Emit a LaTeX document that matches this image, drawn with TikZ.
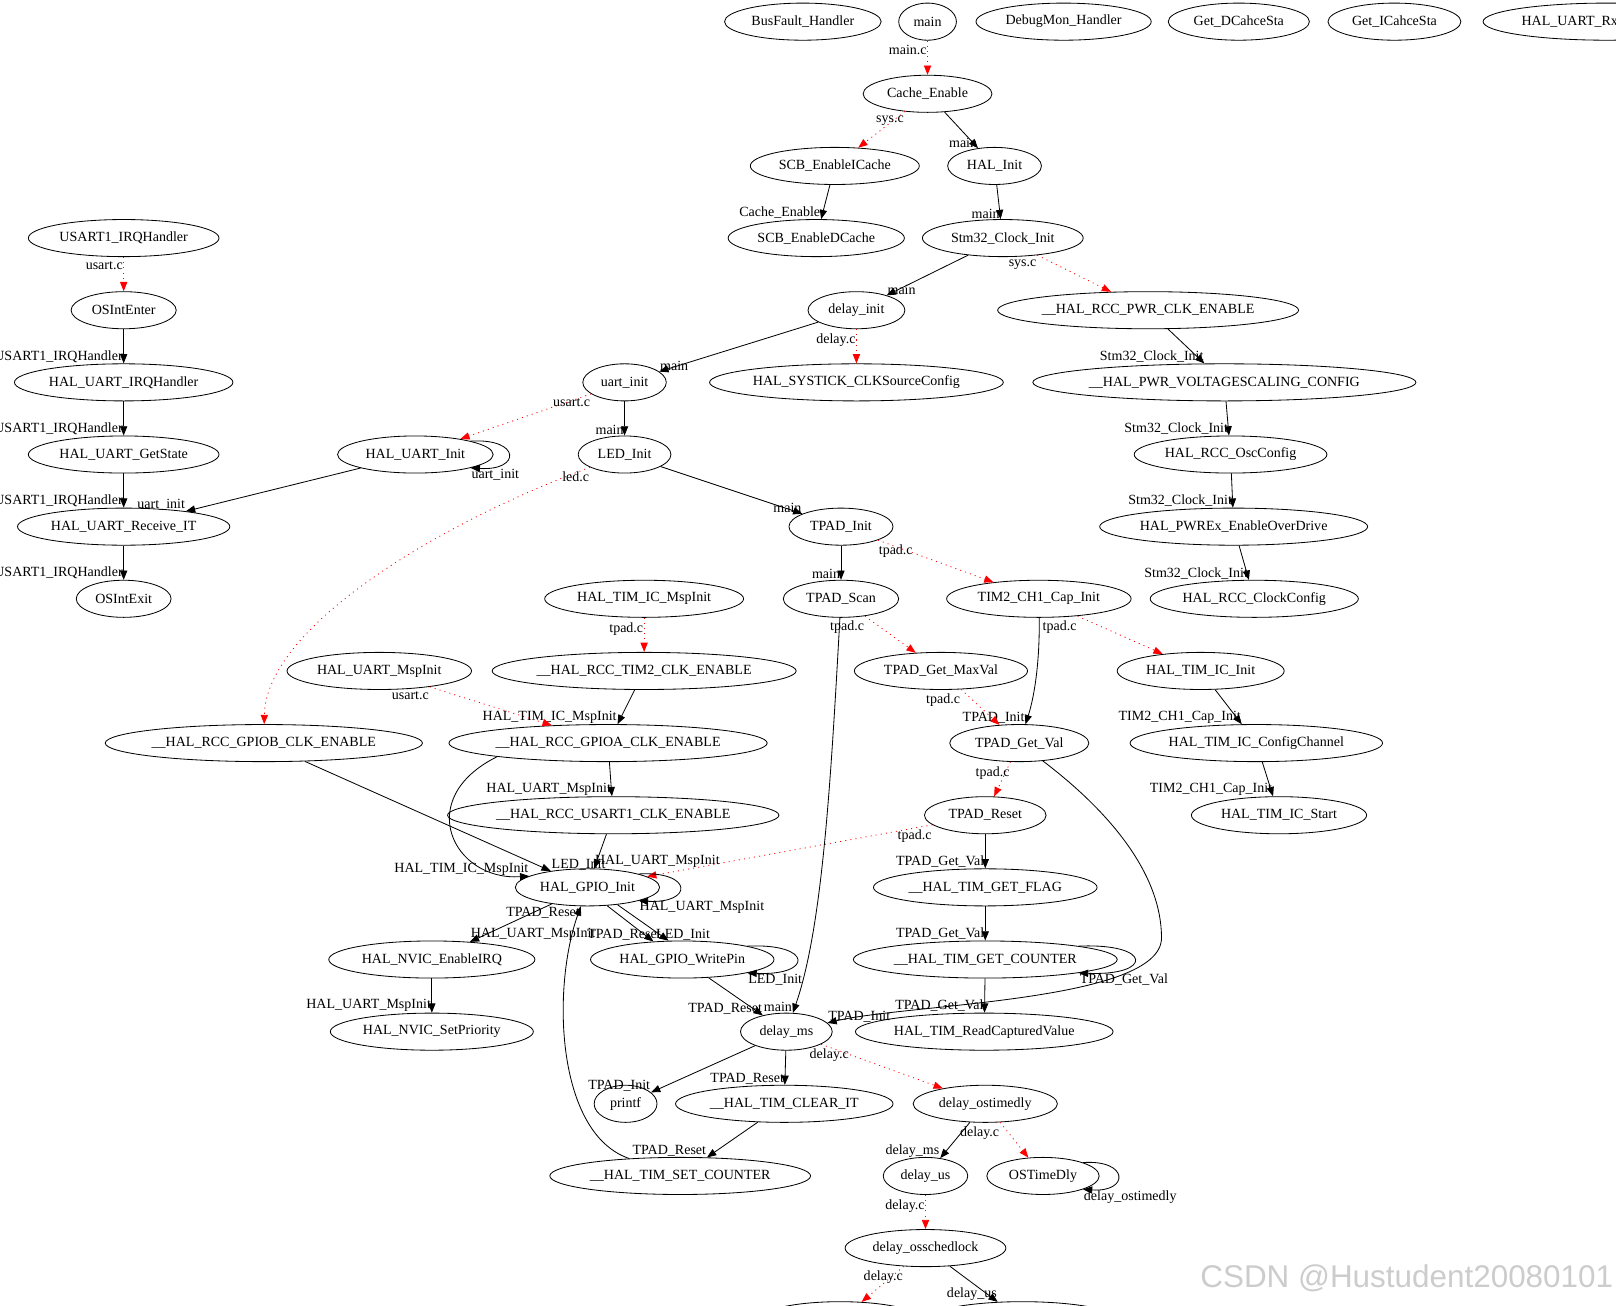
\documentclass[tikz,border=0pt]{standalone}
\usepackage{fontspec}
\setmainfont{Liberation Serif}
\newfontfamily\wmfont{Liberation Sans}
\usetikzlibrary{
    arrows.meta,
    shapes.geometric
}

\begin{document}
\begin{tikzpicture}[
    x=1pt, y=-1pt,
    font=\fontsize{13.6}{15}\selectfont,
    func/.style={
        ellipse,
        draw=black,
        line width=0.8pt,
        minimum height=36pt,
        inner sep=0pt
    },
    callarrow/.style={
        -{Triangle[length=9pt,width=7pt]},
        line width=0.8pt,
        draw=black
    },
    filearrow/.style={
        -{Triangle[length=9pt,width=7pt]},
        line width=0.8pt,
        draw=red,
        dash pattern=on 1pt off 4pt
    },
    headlbl/.style={
        at end,
        anchor=south east,
        inner sep=0.5pt
    },
    taillbl/.style={
        at start,
        anchor=north east,
        inner sep=0.5pt,
        yshift=-3.5pt
    }
]
\useasboundingbox (0,0) rectangle (1568,1267);

% =========================================================
% Top row
% =========================================================
\node[func, minimum width=152pt] (busfault) at (779,21) {BusFault\_Handler};
\node[func, minimum width=56pt] (mainfn) at (900,21) {main};
\node[func, minimum width=170pt] (debugmon) at (1032,21) {DebugMon\_Handler};
\node[func, minimum width=137pt] (getdcache) at (1202,21) {Get\_DCahceSta};
\node[func, minimum width=129pt] (geticache) at (1353,21) {Get\_ICahceSta};
\node[func, minimum width=240pt] (uartrx) at (1559,21) {HAL\_UART\_RxCpltCallback};

% =========================================================
% Cache and clock setup
% =========================================================
\node[func, minimum width=125pt] (cacheen) at (900,91) {Cache\_Enable};
\node[func, minimum width=164pt] (scbicache) at (810,161) {SCB\_EnableICache};
\node[func, minimum width=91pt] (halinit) at (965,161) {HAL\_Init};
\node[func, minimum width=171pt] (scbdcache) at (792,231) {SCB\_EnableDCache};
\node[func, minimum width=156pt] (clkinit) at (973,231) {Stm32\_Clock\_Init};
\node[func, minimum width=94pt] (delayinit) at (831,301) {delay\_init};
\node[func, minimum width=292pt] (pwrclk) at (1114,301) {\_\_HAL\_RCC\_PWR\_CLK\_ENABLE};
\node[func, minimum width=285pt] (systick) at (831,371) {HAL\_SYSTICK\_CLKSourceConfig};
\node[func, minimum width=368pt] (voltscale) at (1188,371) {\_\_HAL\_PWR\_VOLTAGESCALING\_CONFIG};
\node[func, minimum width=187pt] (oscconfig) at (1194,441) {HAL\_RCC\_OscConfig};
\node[func, minimum width=260pt] (overdrive) at (1197,511) {HAL\_PWREx\_EnableOverDrive};
\node[func, minimum width=202pt] (clockcfg) at (1217,581) {HAL\_RCC\_ClockConfig};

% =========================================================
% USART interrupt chain
% =========================================================
\node[func, minimum width=185pt] (usartirq) at (120,231) {USART1\_IRQHandler};
\node[func, minimum width=102pt] (osenter) at (120,301) {OSIntEnter};
\node[func, minimum width=212pt] (uartirq) at (120,371) {HAL\_UART\_IRQHandler};
\node[func, minimum width=185pt] (getstate) at (120,441) {HAL\_UART\_GetState};
\node[func, minimum width=206pt] (recvit) at (120,511) {HAL\_UART\_Receive\_IT};
\node[func, minimum width=92pt] (osexit) at (120,581) {OSIntExit};

% =========================================================
% Init, LED and TPAD
% =========================================================
\node[func, minimum width=81pt] (uartinit) at (606,371) {uart\_init};
\node[func, minimum width=151pt] (haluartinit) at (403,441) {HAL\_UART\_Init};
\node[func, minimum width=90pt] (ledinit) at (606,441) {LED\_Init};
\node[func, minimum width=101pt] (tpadinit) at (816,511) {TPAD\_Init};
\node[func, minimum width=112pt] (tpadscan) at (816,581) {TPAD\_Scan};
\node[func, minimum width=179pt] (capinit) at (1008,581) {TIM2\_CH1\_Cap\_Init};
\node[func, minimum width=168pt] (maxval) at (913,651) {TPAD\_Get\_MaxVal};
\node[func, minimum width=162pt] (icinit) at (1165,651) {HAL\_TIM\_IC\_Init};
\node[func, minimum width=135pt] (getval) at (989,721) {TPAD\_Get\_Val};
\node[func, minimum width=245pt] (cfgchan) at (1219,721) {HAL\_TIM\_IC\_ConfigChannel};
\node[func, minimum width=118pt] (tpadreset) at (956,791) {TPAD\_Reset};
\node[func, minimum width=170pt] (icstart) at (1241,791) {HAL\_TIM\_IC\_Start};
\node[func, minimum width=217pt] (getflag) at (956,861) {\_\_HAL\_TIM\_GET\_FLAG};
\node[func, minimum width=256pt] (getcounter) at (956,931) {\_\_HAL\_TIM\_GET\_COUNTER};
\node[func, minimum width=250pt] (readcap) at (955,1001) {HAL\_TIM\_ReadCapturedValue};

% =========================================================
% MSP and GPIO
% =========================================================
\node[func, minimum width=193pt] (ticmsp) at (625,581) {HAL\_TIM\_IC\_MspInit};
\node[func, minimum width=179pt] (uartmsp) at (368,651) {HAL\_UART\_MspInit};
\node[func, minimum width=295pt] (tim2clk) at (625,651) {\_\_HAL\_RCC\_TIM2\_CLK\_ENABLE};
\node[func, minimum width=306pt] (gpiobclk) at (256,721) {\_\_HAL\_RCC\_GPIOB\_CLK\_ENABLE};
\node[func, minimum width=308pt] (gpioaclk) at (590,721) {\_\_HAL\_RCC\_GPIOA\_CLK\_ENABLE};
\node[func, minimum width=320pt] (usart1clk) at (595,791) {\_\_HAL\_RCC\_USART1\_CLK\_ENABLE};
\node[func, minimum width=140pt] (gpioinit) at (570,861) {HAL\_GPIO\_Init};
\node[func, minimum width=200pt] (nvicirq) at (419,931) {HAL\_NVIC\_EnableIRQ};
\node[func, minimum width=178pt] (writepin) at (662,931) {HAL\_GPIO\_WritePin};
\node[func, minimum width=197pt] (nvicprio) at (419,1001) {HAL\_NVIC\_SetPriority};

% =========================================================
% Delays
% =========================================================
\node[func, minimum width=89pt] (delayms) at (763,1001) {delay\_ms};
\node[func, minimum width=61pt] (printfn) at (607,1071) {printf};
\node[func, minimum width=211pt] (clearit) at (761,1071) {\_\_HAL\_TIM\_CLEAR\_IT};
\node[func, minimum width=140pt] (ostimedly) at (956,1071) {delay\_ostimedly};
\node[func, minimum width=253pt] (setcounter) at (660,1141) {\_\_HAL\_TIM\_SET\_COUNTER};
\node[func, minimum width=82pt] (delayus) at (898,1141) {delay\_us};
\node[func, minimum width=109pt] (ostdly) at (1012,1141) {OSTimeDly};
\node[func, minimum width=156pt] (schedlock) at (898,1211) {delay\_osschedlock};
\node[func, minimum width=160pt] (lockleft) at (815,1281) {};
\node[func, minimum width=188pt] (lockright) at (992,1281) {};

\coordinate (gvbend) at (1127,910);

% =========================================================
% Cache and clock calls
% =========================================================
\draw[filearrow] (mainfn) -- (cacheen) node[taillbl] {main.c};
\draw[filearrow] (cacheen) -- (scbicache) node[taillbl] {sys.c};
\draw[callarrow] (cacheen) -- (halinit) node[headlbl] {main};
\draw[callarrow] (scbicache) -- (scbdcache) node[headlbl] {Cache\_Enable};
\draw[callarrow] (halinit) -- (clkinit) node[headlbl] {main};
\draw[callarrow] (clkinit) -- (delayinit) node[headlbl, anchor=south west] {main};
\draw[filearrow] (clkinit) -- (pwrclk) node[taillbl] {sys.c};
\draw[callarrow] (pwrclk) -- (voltscale) node[headlbl] {Stm32\_Clock\_Init};
\draw[callarrow] (voltscale) -- (oscconfig) node[headlbl] {Stm32\_Clock\_Init};
\draw[callarrow] (oscconfig) -- (overdrive) node[headlbl] {Stm32\_Clock\_Init};
\draw[callarrow] (overdrive) -- (clockcfg) node[headlbl] {Stm32\_Clock\_Init};
\draw[callarrow] (delayinit) -- (uartinit) node[headlbl, anchor=south west] {main};
\draw[filearrow] (delayinit) -- (systick) node[taillbl] {delay.c};

% =========================================================
% USART calls
% =========================================================
\draw[filearrow] (usartirq) -- (osenter) node[taillbl] {usart.c};
\draw[callarrow] (osenter) -- (uartirq) node[headlbl] {USART1\_IRQHandler};
\draw[callarrow] (uartirq) -- (getstate) node[headlbl] {USART1\_IRQHandler};
\draw[callarrow] (getstate) -- (recvit) node[headlbl] {USART1\_IRQHandler};
\draw[callarrow] (recvit) -- (osexit) node[headlbl] {USART1\_IRQHandler};
\draw[callarrow] (haluartinit) -- (recvit) node[headlbl] {uart\_init};
\draw[callarrow] (haluartinit.north east) .. controls +(49,-3) and +(49,3) .. (haluartinit.south east) node[headlbl, anchor=north west] {uart\_init};
\draw[filearrow] (uartinit) -- (haluartinit) node[taillbl] {usart.c};
\draw[callarrow] (uartinit) -- (ledinit) node[headlbl] {main};
\draw[callarrow] (ledinit) -- (tpadinit) node[headlbl] {main};
\draw[filearrow] (ledinit) .. controls (420,510) and (258,610) .. (gpiobclk) node[taillbl] {led.c};

% =========================================================
% TPAD calls
% =========================================================
\draw[callarrow] (tpadinit) -- (tpadscan) node[headlbl] {main};
\draw[filearrow] (tpadinit) -- (capinit) node[taillbl, anchor=north west] {tpad.c};
\draw[filearrow] (tpadscan) -- (maxval) node[taillbl] {tpad.c};
\draw[callarrow] (tpadscan) .. controls (806,760) and (798,900) .. (delayms) node[headlbl] {main};
\draw[callarrow] (capinit) .. controls (1009,640) and (1004,675) .. (getval) node[headlbl] {TPAD\_Init};
\draw[filearrow] (capinit) -- (icinit) node[taillbl] {tpad.c};
\draw[filearrow] (maxval) -- (getval) node[taillbl] {tpad.c};
\draw[callarrow] (icinit) -- (cfgchan) node[headlbl] {TIM2\_CH1\_Cap\_Init};
\draw[callarrow] (cfgchan) -- (icstart) node[headlbl] {TIM2\_CH1\_Cap\_Init};
\draw[filearrow] (getval) -- (tpadreset) node[taillbl] {tpad.c};
\draw[callarrow] (getval) .. controls (1080,790) and (1127,850) .. (gvbend)
    .. controls (1127,972) and (880,974) .. (delayms.12) node[headlbl, anchor=south west] {TPAD\_Init};
\draw[callarrow] (tpadreset) -- (getflag) node[headlbl] {TPAD\_Get\_Val};
\draw[callarrow] (getflag) -- (getcounter) node[headlbl] {TPAD\_Get\_Val};
\draw[callarrow] (getcounter.north east) .. controls +(72,-3) and +(72,3) .. (getcounter.south east) node[headlbl, anchor=north west] {TPAD\_Get\_Val};
\draw[callarrow] (getcounter) -- (readcap) node[headlbl] {TPAD\_Get\_Val};
\draw[filearrow] (tpadreset) -- (gpioinit) node[taillbl] {tpad.c};

% =========================================================
% MSP and GPIO calls
% =========================================================
\draw[filearrow] (ticmsp) -- (tim2clk) node[taillbl] {tpad.c};
\draw[callarrow] (tim2clk) -- (gpioaclk) node[headlbl] {HAL\_TIM\_IC\_MspInit};
\draw[filearrow] (uartmsp) -- (gpioaclk) node[taillbl] {usart.c};
\draw[callarrow] (gpiobclk) -- (gpioinit) node[headlbl, anchor=south west] {LED\_Init};
\draw[callarrow] (gpioaclk.187) .. controls (400,775) and (440,855) .. (gpioinit.169) node[headlbl] {HAL\_TIM\_IC\_MspInit};
\draw[callarrow] (gpioaclk) -- (usart1clk) node[headlbl] {HAL\_UART\_MspInit};
\draw[callarrow] (usart1clk) -- (gpioinit) node[headlbl, anchor=south west] {HAL\_UART\_MspInit};
\draw[callarrow] (gpioinit.north east) .. controls +(53,-3) and +(53,3) .. (gpioinit.south east) node[headlbl, anchor=north west] {HAL\_UART\_MspInit};
\draw[callarrow] (gpioinit) -- (nvicirq) node[headlbl, anchor=south west] {HAL\_UART\_MspInit};
\draw[callarrow] (setcounter) .. controls (540,1100) and (535,960) .. (gpioinit) node[headlbl, anchor=north east] {TPAD\_Reset};
\draw[callarrow] (gpioinit.-43) -- (writepin.148) node[headlbl, xshift=8pt] {TPAD\_Reset};
\draw[callarrow] (gpioinit.-30) -- (writepin.126) node[headlbl, anchor=south, xshift=14pt] {LED\_Init};
\draw[callarrow] (writepin.north east) .. controls +(64,-3) and +(64,3) .. (writepin.south east) node[headlbl, anchor=north west] {LED\_Init};
\draw[callarrow] (writepin) -- (delayms) node[headlbl] {TPAD\_Reset};
\draw[callarrow] (nvicirq) -- (nvicprio) node[headlbl] {HAL\_UART\_MspInit};

% =========================================================
% Delay calls
% =========================================================
\draw[callarrow] (delayms) -- (printfn) node[headlbl] {TPAD\_Init};
\draw[callarrow] (delayms) -- (clearit) node[headlbl] {TPAD\_Reset};
\draw[filearrow] (delayms) -- (ostimedly) node[taillbl, anchor=north, xshift=8pt] {delay.c};
\draw[callarrow] (clearit) -- (setcounter) node[headlbl] {TPAD\_Reset};
\draw[callarrow] (ostimedly) -- (delayus) node[headlbl] {delay\_ms};
\draw[filearrow] (ostimedly) -- (ostdly) node[taillbl] {delay.c};
\draw[callarrow] (ostdly.north east) .. controls +(45,-3) and +(45,3) .. (ostdly.south east) node[headlbl, anchor=north west] {delay\_ostimedly};
\draw[filearrow] (delayus) -- (schedlock) node[taillbl] {delay.c};
\draw[filearrow] (schedlock) -- (lockleft) node[taillbl] {delay.c};
\draw[callarrow] (schedlock) -- (lockright) node[headlbl] {delay\_us};

\node[font=\wmfont\fontsize{30.5}{32}\selectfont, text=black!20] (watermark) at (1365,1240) {CSDN @Hustudent20080101};

\end{tikzpicture}
\end{document}
